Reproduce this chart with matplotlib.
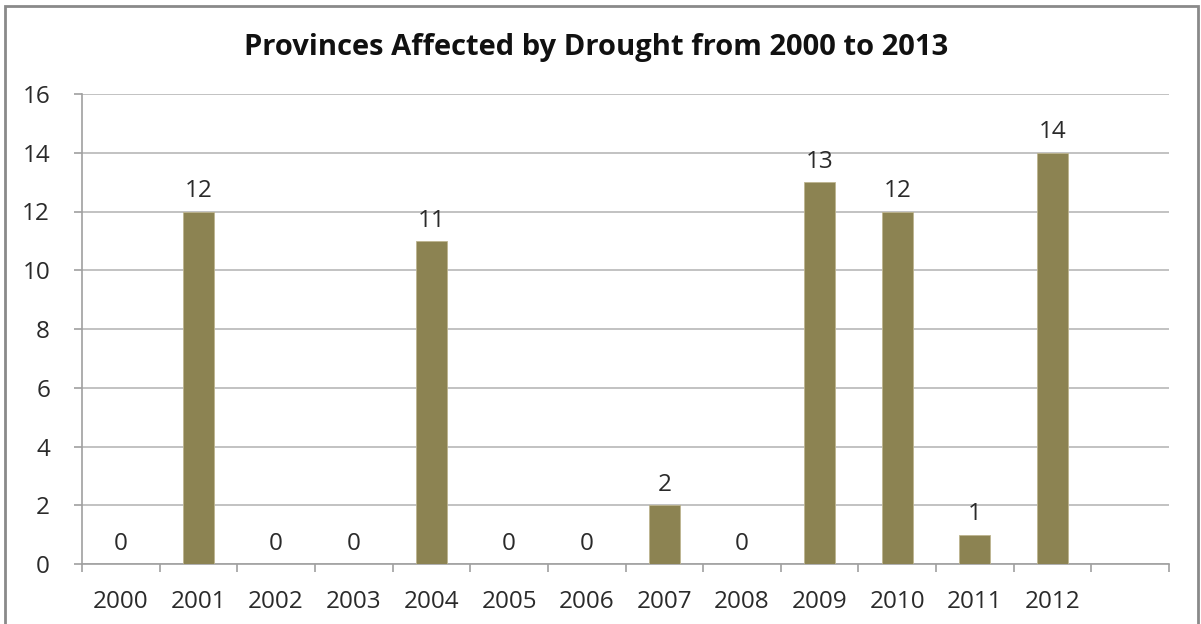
import matplotlib.pyplot as plt
from matplotlib.patches import Rectangle
import numpy as np

years = ['2000', '2001', '2002', '2003', '2004', '2005', '2006',
         '2007', '2008', '2009', '2010', '2011', '2012', '']
provinces = [0, 12, 0, 0, 11, 0, 0, 2, 0, 13, 12, 1, 14, None]

W, H = 1201, 624
fig = plt.figure(figsize=(W / 100, H / 100), dpi=100)
plt.rcParams['font.family'] = ['Open Sans', 'DejaVu Sans']

# outer frame (bottom edge falls off the picture)
fig.patches.append(Rectangle((5 / W, -0.05), 1193 / W, 1.05 - 6 / H,
                             transform=fig.transFigure, fill=False,
                             edgecolor='#8a8a8a', linewidth=2))

ax = fig.add_axes([82 / W, 1 - 564 / H, (1169 - 82) / W, (564 - 94) / H])

x = np.arange(len(years))
vals = [v if v is not None else 0 for v in provinces]
ax.bar(x[:-1], vals[:-1], width=0.4, color='#8c8352', edgecolor='#bdb58f', linewidth=0.6, zorder=3)

for xi, v in zip(x[:-1], vals[:-1]):
    ax.annotate(str(v), (xi, v), xytext=(0, 6), textcoords='offset points',
                ha='center', va='bottom', fontsize=17.5, color='#2a2a2a')

ax.set_xlim(-0.5, len(years) - 0.5)
ax.set_ylim(0, 16)
ax.set_yticks(range(0, 17, 2))
ax.yaxis.grid(True, color='#b8b8b8', linewidth=1.2, zorder=0)

ax.set_xticks(x)
ax.set_xticklabels(years)
ax.set_xticks(np.arange(-0.5, len(years), 1), minor=True)
ax.tick_params(axis='x', which='major', length=0, pad=19, labelsize=17.5, labelcolor='#2a2a2a')
ax.tick_params(axis='x', which='minor', length=6, width=1.2, color='#a0a0a0', direction='out')
ax.tick_params(axis='y', length=6, width=1.2, color='#a0a0a0', pad=17, labelsize=17.5, labelcolor='#2a2a2a')

for s in ['top', 'right']:
    ax.spines[s].set_visible(False)
for s in ['left', 'bottom']:
    ax.spines[s].set_color('#a0a0a0')
    ax.spines[s].set_linewidth(1.2)

fig.text(0.4965, 1 - 47 / H, 'Provinces Affected by Drought from 2000 to 2013',
         ha='center', va='center', fontsize=21, fontweight='bold', color='#111111')

fig.savefig('out.png', dpi=100)
